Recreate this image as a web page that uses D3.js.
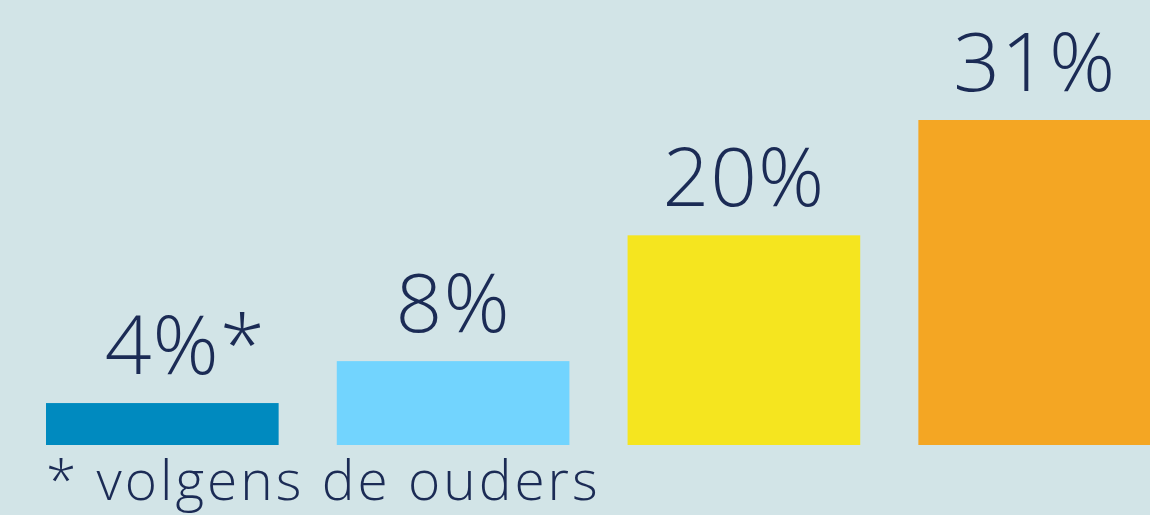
<!DOCTYPE html>
<html lang="en">
<head>
<meta charset="utf-8">
<title>Percentages</title>
<script src="https://cdnjs.cloudflare.com/ajax/libs/d3/7.8.5/d3.min.js"></script>
<style>
  html, body { margin: 0; padding: 0; background: #d2e4e7; overflow: hidden; }
  svg { display: block; }
  .lbl { font-family: "Open Sans", Lato, sans-serif; font-weight: 300; fill: #1b2b55; }
</style>
</head>
<body>
<div id="chart"></div>
<script>
const categories = ["a", "b", "c", "d"];
const values = [4, 8, 20, 31];
const labels = ["4%", "8%", "20%", "31%"];
const marks = ["*", "", "", ""];
const colors = ["#008abf", "#72d4fe", "#f5e51f", "#f4a623"];
const footnote = "* volgens de ouders";

const width = 1150, height = 515;
const baseline = 445;

const svg = d3.select("#chart").append("svg")
  .attr("width", width)
  .attr("height", height);

svg.append("rect").attr("width", width).attr("height", height).attr("fill", "#d2e4e7");

const x = d3.scaleBand()
  .domain(categories)
  .range([46, 1151])
  .paddingInner(0.2)
  .paddingOuter(0);

const y = d3.scaleLinear()
  .domain([0, 31])
  .range([baseline, 120]);

const data = categories.map((c, i) => ({ c, v: values[i], l: labels[i], m: marks[i], col: colors[i] }));

svg.append("g").selectAll("rect")
  .data(data)
  .enter()
  .append("rect")
    .attr("x", d => x(d.c))
    .attr("y", d => y(d.v))
    .attr("width", x.bandwidth())
    .attr("height", d => baseline - y(d.v))
    .attr("fill", d => d.col);

const t = svg.append("g").selectAll("text")
  .data(data)
  .enter()
  .append("text")
    .attr("class", "lbl")
    .attr("x", d => x(d.c) + x.bandwidth() / 2)
    .attr("y", d => y(d.v) - 29)
    .attr("font-size", 82)
    .attr("letter-spacing", 1)
    .attr("text-anchor", "start");

t.append("tspan").text(d => d.l);
t.append("tspan").text(d => d.m);

// center on the number only, the asterisk hangs off to the right
t.each(function(d) {
  const w = this.firstChild.getComputedTextLength();
  d3.select(this).attr("x", x(d.c) + x.bandwidth() / 2 - w / 2);
});

svg.append("text")
  .attr("class", "lbl")
  .attr("x", 46)
  .attr("y", 500)
  .attr("font-size", 55)
  .attr("letter-spacing", 3)
  .text(footnote);
</script>
</body>
</html>
